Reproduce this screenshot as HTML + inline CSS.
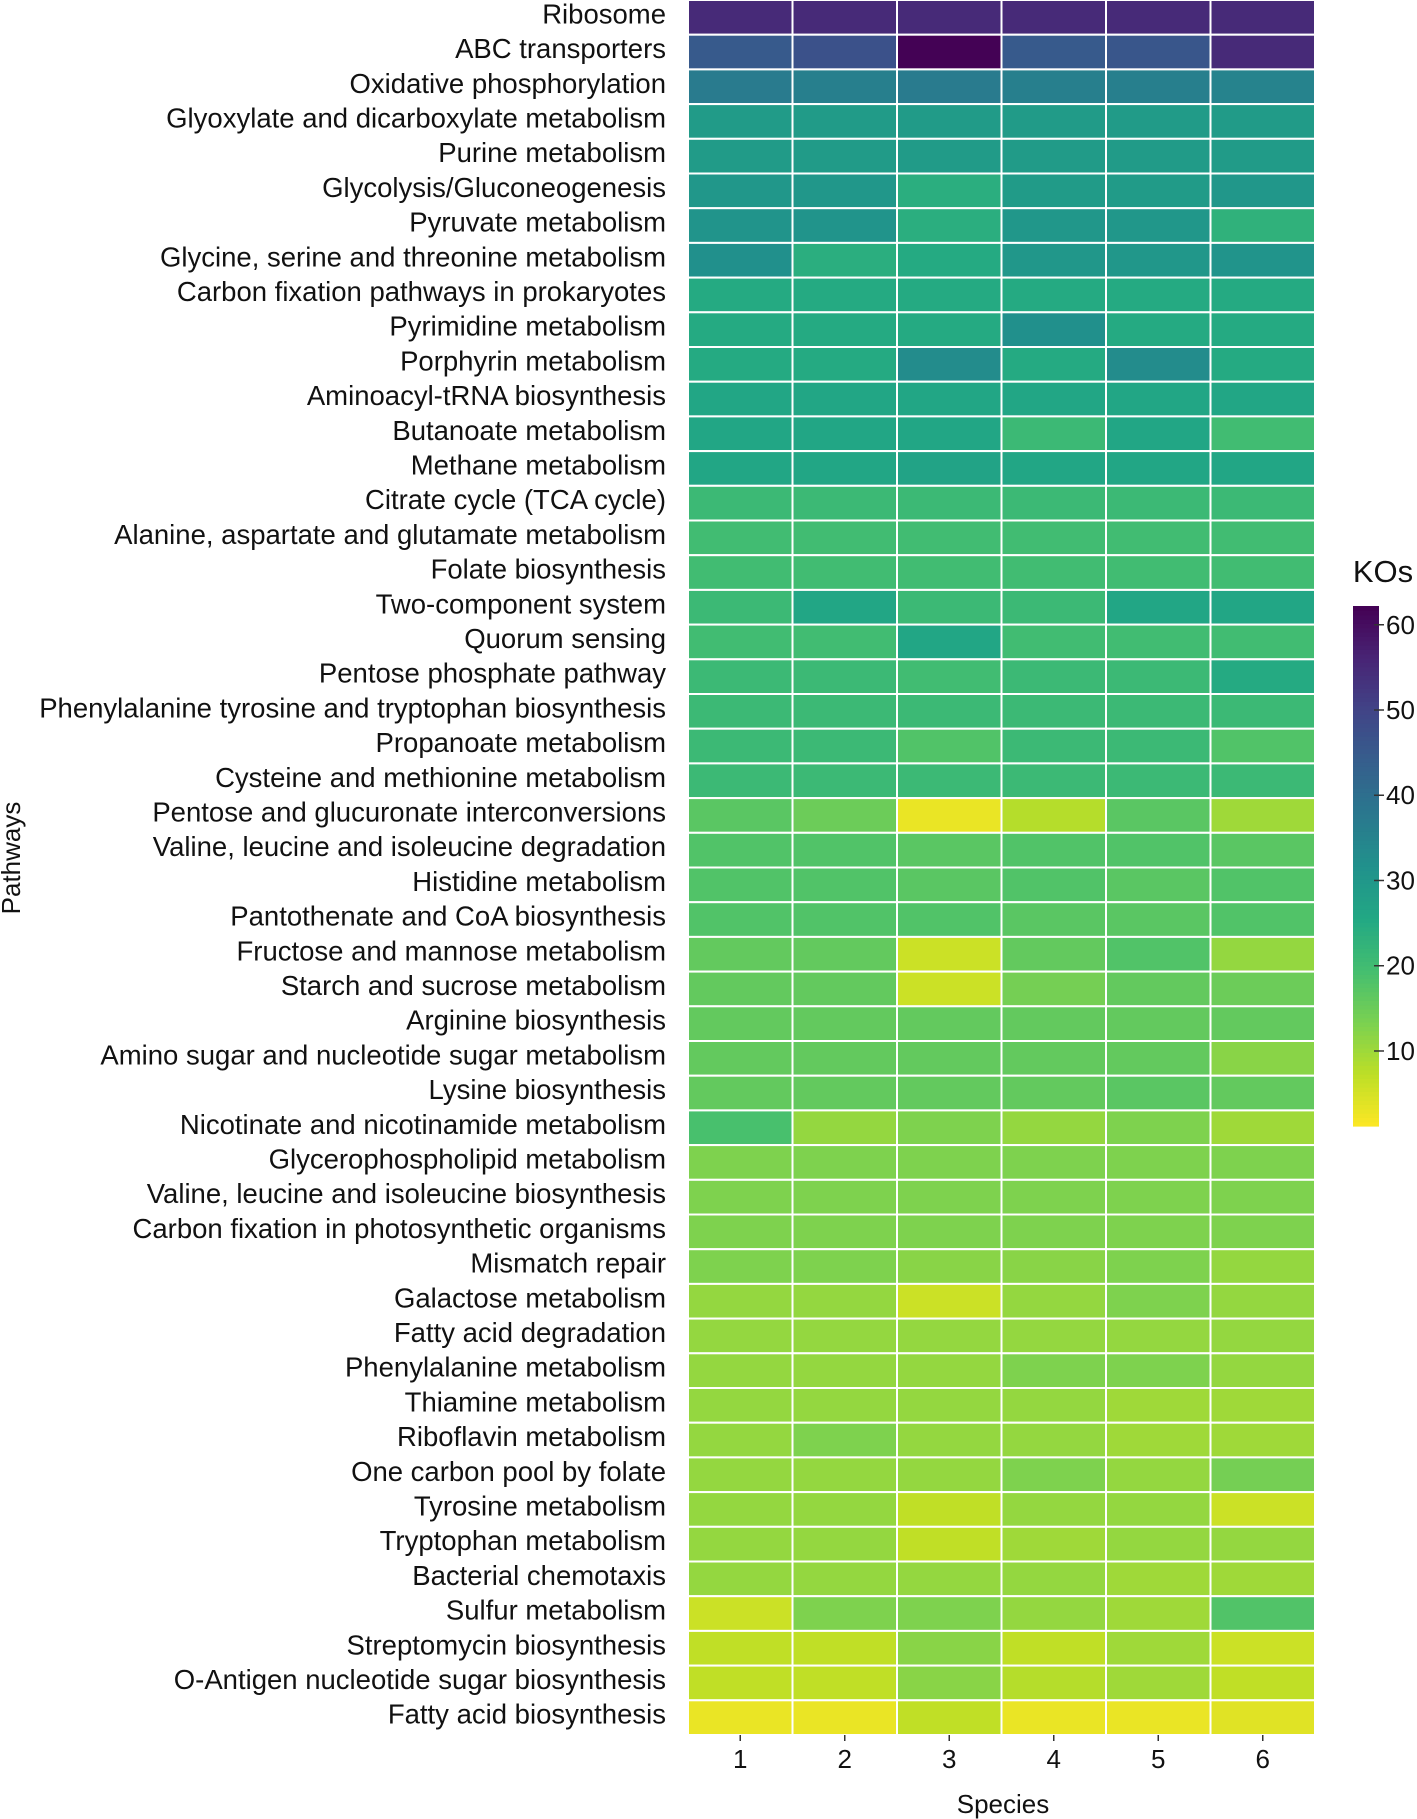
<!DOCTYPE html>
<html><head><meta charset="utf-8"><style>
html,body{margin:0;padding:0;background:#fff;}
svg{display:block;font-family:"Liberation Sans",Arial,sans-serif;}
</style></head><body>
<svg id="chart" width="1417" height="1819" viewBox="0 0 1417 1819">
<g id="cells"></g>
<g id="ylabels"></g>
<g id="xaxis"></g>
<g id="cbar"></g>
<text x="1003" y="1813" font-size="26" text-anchor="middle" fill="#111">Species</text>
<text transform="translate(20,858) rotate(-90)" font-size="26" text-anchor="middle" fill="#111">Pathways</text>
<text x="1383" y="582" font-size="31" text-anchor="middle" fill="#111">KOs</text>
</svg>
<script>
const species = ["1","2","3","4","5","6"];
const pathways = ["Ribosome","ABC transporters","Oxidative phosphorylation","Glyoxylate and dicarboxylate metabolism","Purine metabolism","Glycolysis/Gluconeogenesis","Pyruvate metabolism","Glycine, serine and threonine metabolism","Carbon fixation pathways in prokaryotes","Pyrimidine metabolism","Porphyrin metabolism","Aminoacyl-tRNA biosynthesis","Butanoate metabolism","Methane metabolism","Citrate cycle (TCA cycle)","Alanine, aspartate and glutamate metabolism","Folate biosynthesis","Two-component system","Quorum sensing","Pentose phosphate pathway","Phenylalanine tyrosine and tryptophan biosynthesis","Propanoate metabolism","Cysteine and methionine metabolism","Pentose and glucuronate interconversions","Valine, leucine and isoleucine degradation","Histidine metabolism","Pantothenate and CoA biosynthesis","Fructose and mannose metabolism","Starch and sucrose metabolism","Arginine biosynthesis","Amino sugar and nucleotide sugar metabolism","Lysine biosynthesis","Nicotinate and nicotinamide metabolism","Glycerophospholipid metabolism","Valine, leucine and isoleucine biosynthesis","Carbon fixation in photosynthetic organisms","Mismatch repair","Galactose metabolism","Fatty acid degradation","Phenylalanine metabolism","Thiamine metabolism","Riboflavin metabolism","One carbon pool by folate","Tyrosine metabolism","Tryptophan metabolism","Bacterial chemotaxis","Sulfur metabolism","Streptomycin biosynthesis","O-Antigen nucleotide sugar biosynthesis","Fatty acid biosynthesis"];
const values = [
[55,55,55,55,55,55],[45,47,62,45,46,55],[37,36,37,36,36,35],[29,29,29,29,29,29],[29,29,29,29,29,29],
[30,30,24,29,29,30],[31,31,24,30,30,23],[32,24,25,30,30,31],[25,25,25,25,25,25],[25,25,25,32,25,25],
[25,25,33,25,33,25],[26,26,26,26,26,26],[26,26,26,21,26,20],[26,26,27,26,26,26],[21,21,21,21,21,21],
[20,20,20,20,20,20],[20,20,20,20,20,20],[21,26,21,21,26,26],[20,20,26,20,20,20],[21,21,20,21,21,25],
[21,21,21,21,21,21],[21,21,18,21,21,18],[21,21,21,21,21,21],[17,15,3,8,17,10],[18,18,17,18,18,17],
[18,18,17,18,17,18],[18,18,18,17,17,18],[16,16,6,16,18,11],[16,16,6,14,16,15],[16,16,16,16,16,16],
[16,16,16,16,16,12],[16,16,16,16,17,16],[19,11,13,11,13,10],[13,13,13,13,13,13],[13,13,13,13,13,13],
[13,13,13,13,13,13],[13,13,12,12,13,11],[11,11,6,11,13,11],[11,11,11,11,11,11],[11,11,11,13,13,11],
[11,11,11,11,10,10],[11,13,11,11,10,10],[11,11,11,13,11,14],[11,11,7,11,11,6],[11,11,7,10,11,11],
[11,11,11,11,10,10],[6,13,13,11,10,18],[7,7,12,7,10,6],[7,7,12,8,10,7],[3,3,7,3,3,4]];
const cbTicks = [10,20,30,40,50,60];
const vmin = 1.2, vmax = 62.2;

const NS="http://www.w3.org/2000/svg";
const vir=[[68,1,84],[72,36,117],[65,68,135],[53,95,141],[42,120,142],[33,145,140],[34,168,132],[68,190,112],[122,209,81],[189,223,38],[253,231,37]];
function color(v){let t=(vmax-v)/(vmax-vmin);t=Math.max(0,Math.min(1,t));
 const p=t*(vir.length-1),i=Math.min(vir.length-2,Math.floor(p)),f=p-i;
 const c=vir[i].map((a,k)=>Math.round(a+(vir[i+1][k]-a)*f));return `rgb(${c})`;}
const X0=688,X1=1315,Y0=0,Y1=1735;
const cw=(X1-X0)/species.length, rh=(Y1-Y0)/pathways.length;
const xPos=j=>X0+j*cw, yPos=i=>Y0+i*rh;
function mk(tag,attrs,parent){const e=document.createElementNS(NS,tag);for(const k in attrs)e.setAttribute(k,attrs[k]);parent.appendChild(e);return e;}
const cells=document.getElementById('cells'),yl=document.getElementById('ylabels'),xa=document.getElementById('xaxis'),cb=document.getElementById('cbar');
values.forEach((row,i)=>{
 row.forEach((v,j)=>{
  const r=mk('rect',{x:xPos(j),y:yPos(i),width:cw,height:rh,fill:color(v),stroke:'#fff','stroke-width':2},cells);
  
  
 });
 const t=mk('text',{x:666,y:yPos(i)+rh/2+6,'font-size':27.5,'text-anchor':'end',fill:'#111'},yl);
 t.textContent=pathways[i];
 
 
});
species.forEach((s,j)=>{
 const cx=xPos(j)+cw/2;
 const tk=mk('line',{x1:cx,x2:cx,y1:Y1,y2:Y1+6,stroke:'#333','stroke-width':1.5},xa);
 
 
 const t=mk('text',{x:cx,y:1768,'font-size':26,'text-anchor':'middle',fill:'#111'},xa);
 t.textContent=s;
 
 
});
const CX=1353,CW=26,CT=606,CB=1126;
const cy=v=>CB-(v-vmin)/(vmax-vmin)*(CB-CT);
const N=120;
for(let k=0;k<N;k++){const v0=vmin+(vmax-vmin)*k/N,v1=vmin+(vmax-vmin)*(k+1)/N;
 const r=mk('rect',{x:CX,y:cy(v1),width:CW,height:cy(v0)-cy(v1)+0.6,fill:color((v0+v1)/2)},cb);
 
 
}
cbTicks.forEach(v=>{
 const l=mk('line',{x1:CX+CW-5,x2:CX+CW+5,y1:cy(v),y2:cy(v),stroke:'#333','stroke-width':1.5},cb);
 
 
 const t=mk('text',{x:CX+CW+7,y:cy(v)+9,'font-size':26,fill:'#111'},cb);
 t.textContent=v;
 
 
});
</script>
</body></html>
